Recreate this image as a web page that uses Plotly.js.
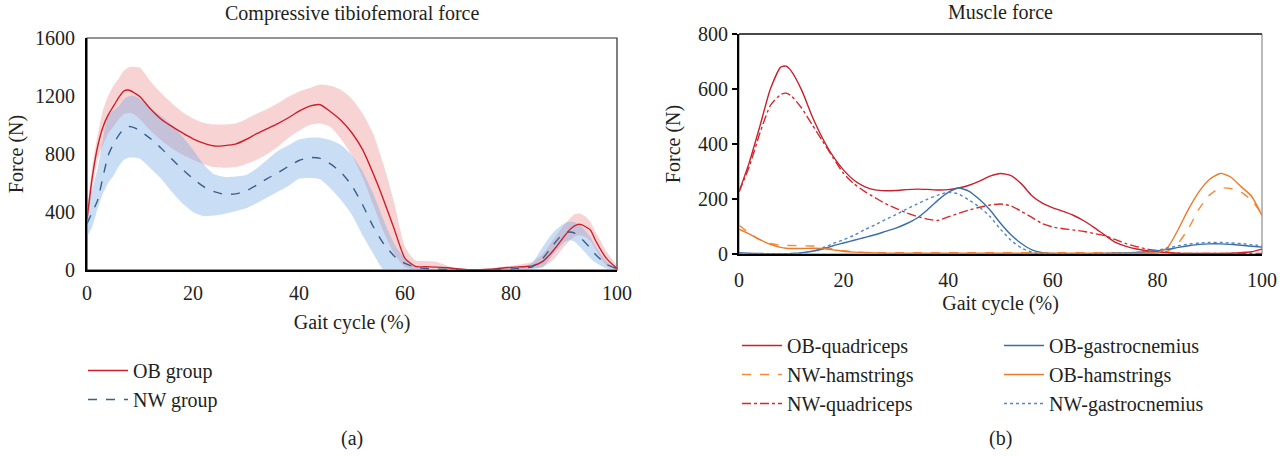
<!DOCTYPE html>
<html>
<head>
<meta charset="utf-8">
<script src="https://cdn.plot.ly/plotly-3.0.1.min.js"></script>
<style>html,body{margin:0;padding:0;background:#fff;}#chart{width:1288px;height:456px;}</style>
</head>
<body>
<div id="chart"></div>
<script>
// ---------- Panel (a): compressive tibiofemoral force ----------
const gaitA = [0,1,2,3,4,5,6,7,8,9,10,12,14,16,18,20,22,24,26,28,30,32,34,36,38,40,42,44,46,48,50,52,54,56,58,60,62,64,66,68,70,72,74,76,78,80,82,84,86,88,90,91,92,93,94,95,96,98,100];
const obMean  = [350,640,850,985,1070,1130,1190,1235,1240,1220,1195,1110,1040,990,945,905,875,855,858,868,900,940,975,1010,1050,1095,1130,1140,1090,1030,945,830,665,480,280,80,25,22,20,15,8,2,2,5,12,18,22,28,60,135,230,275,305,315,300,275,200,80,10];
const obUpper = [410,720,930,1100,1200,1270,1320,1375,1400,1400,1395,1300,1220,1150,1090,1045,1015,1003,1003,1010,1040,1077,1110,1150,1195,1230,1255,1280,1270,1240,1180,1080,940,720,460,160,65,62,55,30,10,3,3,8,20,30,40,55,110,210,310,350,385,390,370,330,260,130,30];
const obLower = [290,560,760,860,940,990,1040,1075,1085,1070,1040,960,895,840,795,760,730,710,705,710,730,760,800,850,910,960,1000,1010,985,900,790,640,450,260,110,20,0,0,0,0,0,0,0,0,0,0,5,10,20,70,160,200,230,240,230,200,140,30,0];
const nwMean  = [320,400,480,640,790,870,930,975,990,980,960,905,840,765,695,630,575,540,522,525,545,585,630,670,715,755,775,770,730,670,580,450,300,180,95,45,20,10,6,4,3,2,2,3,5,8,12,22,80,175,255,262,255,225,190,150,105,40,8];
const nwUpper = [400,560,700,900,1070,1100,1130,1180,1200,1200,1180,1110,1060,1000,920,830,730,660,642,645,655,700,760,820,860,900,912,912,895,860,790,680,527,340,180,80,25,5,2,2,2,2,2,2,3,5,20,50,160,260,320,332,330,310,270,225,160,60,10];
const nwLower = [230,300,420,527,600,650,715,760,775,775,767,700,630,540,460,400,372,375,388,405,425,460,500,540,580,630,635,625,560,480,380,240,114,0,0,0,0,0,0,0,0,0,0,0,0,0,0,5,20,110,190,205,195,160,120,80,50,10,0];

// ---------- Panel (b): muscle force ----------
const gaitB = [0,2,4,6,8,9,10,12,14,16,18,20,22,24,26,28,30,32,34,36,38,40,42,44,46,48,50,52,54,56,58,60,62,64,66,68,70,72,74,76,78,80,82,84,86,88,90,92,94,96,98,100];
const obQuad = [226,335,465,600,680,683,665,595,500,420,355,305,268,245,233,230,231,234,236,235,233,234,240,250,265,283,293,285,255,212,185,168,155,140,120,95,68,42,28,18,12,8,5,3,2,2,2,2,3,5,8,18];
const nwQuad = [226,320,440,540,580,585,575,530,470,410,350,293,255,228,205,183,166,150,137,127,122,135,148,160,170,178,182,175,155,133,110,98,92,87,82,74,66,52,38,27,18,12,6,3,2,2,2,2,2,2,2,2];
const obGas  = [5,3,2,1,1,1,2,5,10,18,30,40,50,60,70,82,94,110,130,160,195,224,240,228,198,160,112,70,38,15,5,2,1,1,1,1,2,3,4,6,8,12,17,24,30,35,37,37,35,32,28,25];
const nwGas  = [0,0,0,0,0,0,1,3,10,22,38,52,68,88,106,125,143,163,181,199,214,224,218,196,170,136,90,50,22,6,1,0,0,0,0,1,2,3,4,6,9,14,22,30,36,40,42,42,40,38,34,30];
const obHam  = [90,72,52,35,24,21,20,20,21,20,15,10,7,5,4,3,3,3,3,3,3,3,3,3,3,3,3,3,3,3,3,3,3,3,3,3,3,3,3,3,3,4,25,90,165,228,272,293,280,245,210,140];
const nwHam  = [105,75,52,38,32,31,31,30,29,25,18,12,8,6,5,5,5,5,5,5,5,5,5,5,5,5,5,5,5,5,5,5,5,5,5,5,5,5,5,5,5,5,10,40,95,165,215,240,238,225,195,145];

const xTicks = [0,20,40,60,80,100];
const FONT = '"Liberation Serif", "Times New Roman", serif';
const TXT = '#231f20';
const FS = 20;

function band(x, lo, hi, color) {
  return [
    {x: x, y: lo, type:'scatter', mode:'lines', line:{width:0, shape:'spline', smoothing:0.6}, showlegend:false, hoverinfo:'skip', xaxis:'x', yaxis:'y'},
    {x: x, y: hi, type:'scatter', mode:'lines', fill:'tonexty', fillcolor:color, line:{width:0, shape:'spline', smoothing:0.6}, showlegend:false, hoverinfo:'skip', xaxis:'x', yaxis:'y'}
  ];
}
function ln(x, y, name, color, dash, xa, ya, leg, grp) {
  return {x:x, y:y, name:name, type:'scatter', mode:'lines',
    line:{color:color, width:1.4, dash:dash, shape:'spline', smoothing:0.6},
    xaxis:xa, yaxis:ya, legend:leg, legendgroup:grp};
}

const traces = [].concat(
  band(gaitA, obLower, obUpper, 'rgba(228,110,110,0.30)'),
  band(gaitA, nwLower, nwUpper, 'rgba(100,160,225,0.35)'),
  [
    ln(gaitA, obMean, 'OB group', '#cc1f2b', 'solid', 'x', 'y', 'legend', 'a1'),
    ln(gaitA, nwMean, 'NW group', '#3b5f8a', 'dash', 'x', 'y', 'legend', 'a2'),
    ln(gaitB, obQuad, 'OB-quadriceps', '#c8202f', 'solid', 'x2', 'y2', 'legend2', 'b1'),
    ln(gaitB, nwHam, 'NW-hamstrings', '#f28b3a', 'dash', 'x2', 'y2', 'legend2', 'b2'),
    ln(gaitB, nwQuad, 'NW-quadriceps', '#d9262b', 'dashdot', 'x2', 'y2', 'legend2', 'b3'),
    ln(gaitB, obGas, 'OB-gastrocnemius', '#3a6ea8', 'solid', 'x2', 'y2', 'legend3', 'c1'),
    ln(gaitB, obHam, 'OB-hamstrings', '#ee7a28', 'solid', 'x2', 'y2', 'legend3', 'c2'),
    ln(gaitB, nwGas, 'NW-gastrocnemius', '#4f87c7', 'dot', 'x2', 'y2', 'legend3', 'c3')
  ]
);

const W = 1288, H = 456;
const tf = {family:FONT, size:FS, color:TXT};
const axBase = {showgrid:false, zeroline:false, showline:true, linecolor:'#000', linewidth:2,
  tickfont:tf, fixedrange:true};
const legBase = {xanchor:'left', yanchor:'top', bgcolor:'rgba(0,0,0,0)', font:tf,
  itemwidth:40, traceorder:'grouped', tracegroupgap:0};

const layout = {
  width:W, height:H, margin:{l:0, r:0, t:0, b:0},
  paper_bgcolor:'#fff', plot_bgcolor:'#fff',
  font:tf,
  xaxis: Object.assign({}, axBase, {domain:[87/W, 617/W], range:[0,100], tickvals:xTicks, ticks:'', ticklabelstandoff:4,
    anchor:'y', title:{text:'Gait cycle (%)', font:tf, standoff:12}}),
  yaxis: Object.assign({}, axBase, {domain:[(H-270)/H, (H-38)/H], range:[0,1600], dtick:400, ticks:'', ticklabelstandoff:6,
    anchor:'x', title:{text:'Force (N)', font:tf, standoff:6}}),
  xaxis2: Object.assign({}, axBase, {domain:[739/W, 1262/W], range:[0,100], tickvals:xTicks, ticks:'', ticklabelstandoff:7,
    anchor:'y2', title:{text:'Gait cycle (%)', font:tf, standoff:6}}),
  yaxis2: Object.assign({}, axBase, {domain:[(H-254)/H, (H-34)/H], range:[0,800], dtick:200, ticks:'outside', ticklen:5, tickwidth:1.5, tickcolor:'#000',
    anchor:'x2', title:{text:'Force (N)', font:tf, standoff:12}}),
  shapes:[
    {type:'rect', xref:'x domain', yref:'y domain', x0:0, x1:1, y0:0, y1:1, line:{color:'#2b2b2b', width:1.2}, layer:'below'},
    {type:'rect', xref:'x2 domain', yref:'y2 domain', x0:0, x1:1, y0:0, y1:1, line:{color:'#777', width:1}, layer:'below'},
    {type:'line', xref:'x2 domain', yref:'y2 domain', x0:0, x1:1, y0:1, y1:1, line:{color:'#222', width:1.6}, layer:'below'}
  ],
  annotations:[
    {text:'Compressive tibiofemoral force', xref:'x domain', x:0.5, yref:'paper', y:1-13/H, showarrow:false, xanchor:'center', yanchor:'middle', font:tf},
    {text:'Muscle force', xref:'x2 domain', x:0.5, yref:'paper', y:1-12/H, showarrow:false, xanchor:'center', yanchor:'middle', font:tf},
    {text:'(a)', xref:'x domain', x:0.5, yref:'paper', y:1-438/H, showarrow:false, xanchor:'center', yanchor:'middle', font:tf},
    {text:'(b)', xref:'x2 domain', x:0.5, yref:'paper', y:1-438/H, showarrow:false, xanchor:'center', yanchor:'middle', font:tf}
  ],
  legend: Object.assign({}, legBase, {x:83/W, y:1-351/H}),
  legend2: Object.assign({}, legBase, {x:737/W, y:1-326/H}),
  legend3: Object.assign({}, legBase, {x:999/W, y:1-326/H}),
  showlegend:true
};

Plotly.newPlot('chart', traces, layout, {displayModeBar:false, staticPlot:true});
</script>
</body>
</html>
